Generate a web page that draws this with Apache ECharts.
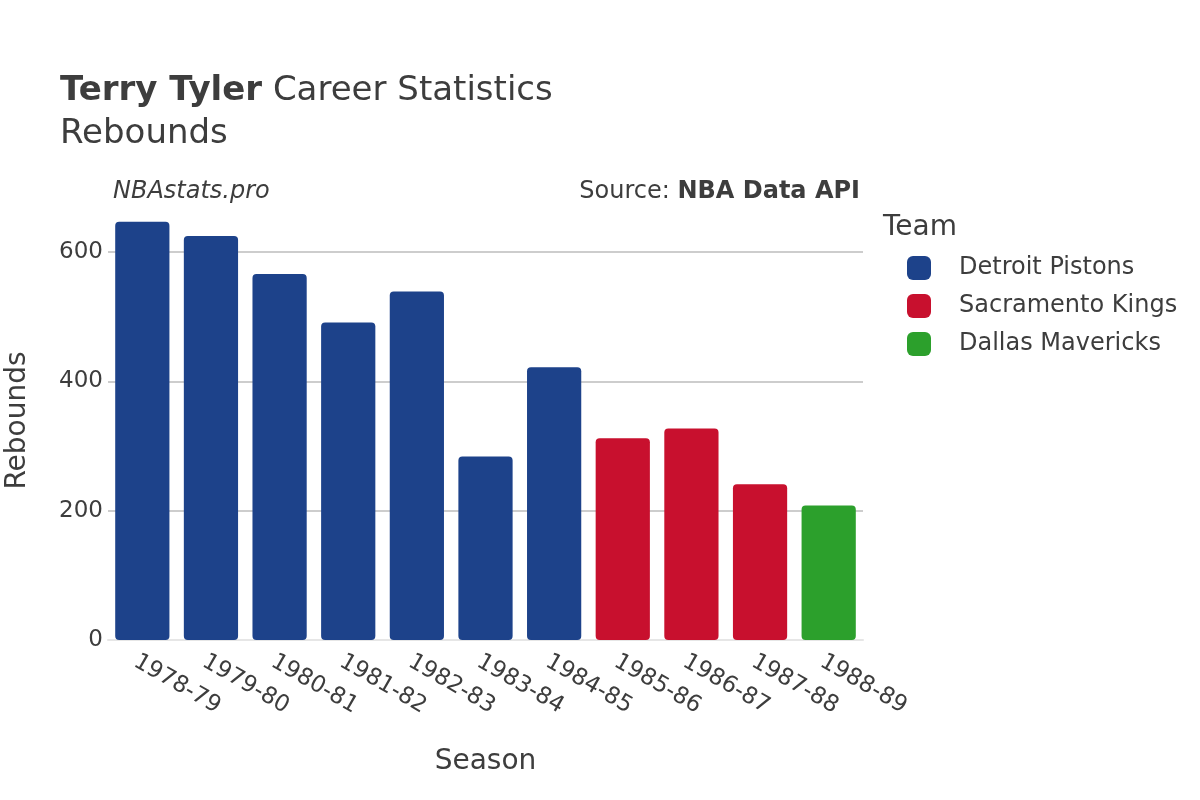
<!DOCTYPE html>
<html>
<head>
<meta charset="utf-8">
<script src="https://cdn.jsdelivr.net/npm/echarts@6/dist/echarts.min.js"></script>
<style>
  html, body { margin: 0; padding: 0; background: #fff; }
  #myChart { width: 1200px; height: 800px; }
</style>
</head>
<body>
<div id="myChart"></div>
<script>
// seasons and rebounds per team
const seasons = ['1978-79', '1979-80', '1980-81', '1981-82', '1982-83', '1983-84', '1984-85', '1985-86', '1986-87', '1987-88', '1988-89']
const detroit = [647, 625, 566, 491, 539, 284, 422, null, null, null, null]
const sacramento = [null, null, null, null, null, null, null, 312, 327, 241, null]
const dallas = [null, null, null, null, null, null, null, null, null, null, 208]
const teams = ['Detroit Pistons', 'Sacramento Kings', 'Dallas Mavericks']
const colors = ['#1d428a', '#c8102e', '#2ca02c']
const yTicks = [0, 200, 400, 600]

const font = 'DejaVu Sans'
const txt = '#3d3d3d'

const makeSeries = (name, data, color) => ({
  name: name,
  type: 'bar',
  stack: 'total',
  data: data,
  barCategoryGap: '21%',
  itemStyle: { color: color, borderRadius: 4 }
})

const myChart = echarts.init(document.getElementById('myChart'))
myChart.setOption({
  animation: false,
  textStyle: { fontFamily: font },
  color: colors,
  title: [{
    text: '{b|Terry Tyler} Career Statistics\nRebounds',
    left: 55,
    top: 65,
    textStyle: {
      fontFamily: font, fontSize: 34, fontWeight: 'normal', color: txt, lineHeight: 43,
      rich: {
        b: { fontFamily: font, fontSize: 34, fontWeight: 'bold', color: txt, lineHeight: 43 }
      }
    }
  }, {
    text: 'Team',
    left: 878,
    top: 209,
    textStyle: { fontFamily: font, fontSize: 28, fontWeight: 'normal', color: txt }
  }],
  graphic: [{
    type: 'text', left: 113, top: 180,
    style: { text: 'NBAstats.pro', font: 'italic 24px "DejaVu Sans"', fill: txt }
  }, {
    type: 'text', right: 340, top: 180,
    style: {
      text: '{n|Source: }{b|NBA Data API}',
      rich: {
        n: { fontFamily: font, fontSize: 24, fill: txt },
        b: { fontFamily: font, fontSize: 24, fontWeight: 'bold', fill: txt }
      }
    }
  }],
  legend: {
    orient: 'vertical',
    left: 902,
    top: 251,
    itemWidth: 24,
    itemHeight: 24,
    itemGap: 14,
    icon: 'roundRect',
    data: teams,
    textStyle: { fontFamily: font, fontSize: 24, color: txt, padding: [0, 0, 0, 23] }
  },
  grid: { left: 108, right: 337, top: 201, bottom: 160, outerBoundsMode: 'none' },
  xAxis: {
    type: 'category',
    data: seasons,
    name: 'Season',
    nameLocation: 'middle',
    nameGap: 108,
    nameTextStyle: { fontFamily: font, fontSize: 28, color: txt },
    axisLine: { lineStyle: { color: '#e6e6e6', width: 2 } },
    axisTick: { show: false },
    axisLabel: { rotate: -30, margin: 24, fontFamily: font, fontSize: 23, color: txt, interval: 0, padding: [0, 0, 0, -8] }
  },
  yAxis: {
    type: 'value',
    min: yTicks[0],
    max: 679,
    interval: 200,
    name: 'Rebounds',
    nameLocation: 'middle',
    nameGap: 76,
    nameTextStyle: { fontFamily: font, fontSize: 28, color: txt },
    axisLine: { show: false },
    axisTick: { show: false },
    splitLine: { showMaxLine: false, lineStyle: { color: '#bdbdbd', width: 1.5 } },
    axisLabel: {
      fontFamily: font, fontSize: 23, color: txt, margin: 5,
      showMaxLabel: false,
      formatter: v => (yTicks.indexOf(v) >= 0 ? String(v) : '')
    }
  },
  series: [
    makeSeries(teams[0], detroit, colors[0]),
    makeSeries(teams[1], sacramento, colors[1]),
    makeSeries(teams[2], dallas, colors[2])
  ]
})
window.addEventListener('resize', () => {
  myChart.resize()
})
</script>
</body>
</html>
